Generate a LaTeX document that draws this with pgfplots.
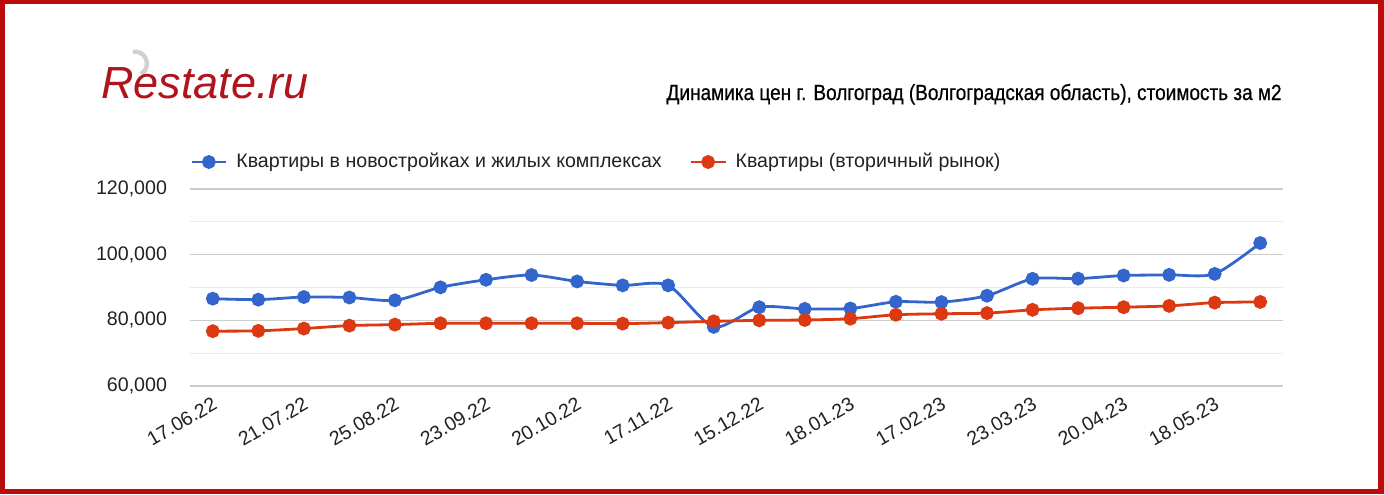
\documentclass[border=0pt]{standalone}
\usepackage{fontspec}
\setmainfont{Liberation Sans}
\newfontfamily\titlefont[FakeBold=0.7]{Liberation Sans}
\usepackage{graphicx}
\usepackage{pgfplots}
\pgfplotsset{compat=1.18}
\definecolor{gblue}{HTML}{3366CC}
\definecolor{gred}{HTML}{DC3912}
\definecolor{frame}{HTML}{BA0C0C}
\definecolor{logored}{HTML}{B0141C}
\definecolor{txt}{HTML}{222222}
\begin{document}
\begin{tikzpicture}[x=0.5pt,y=0.5pt]
\useasboundingbox (0,0) rectangle (1384,494);
\fill[frame] (0,0) rectangle (1384,494);
\fill[white] (5,5) rectangle (1378,489.5);
% logo
\draw[black!18, line width=2.2pt] (141,420) arc[start angle=-60, end angle=100, radius=12];
\node[anchor=base west, inner sep=0pt, text=logored] at (101,396)
  {\fontsize{22.5}{26}\selectfont\itshape Restate.ru};
% title
\node[anchor=base east, inner sep=0pt, text=black] at (1282,394)
  {\resizebox{307.5pt}{\height}{\titlefont\fontsize{11}{13}\selectfont Динамика цен г. Волгоград (Волгоградская область), стоимость за м2}};
\begin{axis}[
  at={(95pt,54pt)}, anchor=south west,
  scale only axis, width=546.5pt, height=98.5pt,
  xmin=-0.5, xmax=23.5, ymin=60000, ymax=120000,
  axis line style={draw=none},
  major tick length=0pt, minor tick length=0pt,
  ytick={60000,80000,100000,120000},
  minor ytick={70000,90000,110000},
  ymajorgrids, yminorgrids,
  major grid style={draw=black!20, line width=0.6pt},
  minor grid style={draw=black!8, line width=0.6pt},
  xtick={0,2,...,22},
  xticklabels={17.06.22,21.07.22,25.08.22,23.09.22,20.10.22,17.11.22,15.12.22,18.01.23,17.02.23,23.03.23,20.04.23,18.05.23},
  scaled y ticks=false,
  /pgf/number format/.cd, 1000 sep={,}, fixed, assume math mode=true,
  /pgfplots/.cd,
  tick label style={font=\fontsize{9.8}{11}\selectfont, text=txt},
  yticklabel style={xshift=-8pt},
  xticklabel style={rotate=30, anchor=north east, inner sep=1pt, yshift=-3pt, xshift=-2pt},
  legend style={draw=none, fill=none, at={(0,1)}, anchor=west, yshift=13.5pt,
    inner xsep=0pt, font=\fontsize{9.8}{11}\selectfont, text=txt,
    /tikz/every odd column/.append style={column sep=2.5pt},
    /tikz/every even column/.append style={column sep=12pt}},
  legend columns=2, legend cell align=left,
  every axis plot/.append style={line width=1.4pt, mark=*, mark size=2.75pt, smooth, tension=0.45},
]
\addplot[gblue, mark options={fill=gblue, draw=gblue}] coordinates {
(0,86600) (1,86300) (2,87100) (3,86950) (4,86100) (5,90050) (6,92350) (7,93800)
(8,91850) (9,90650) (10,90650) (11,78000) (12,84000) (13,83500) (14,83600) (15,85650)
(16,85550) (17,87500) (18,92650) (19,92700) (20,93650) (21,93850) (22,94150) (23,103550)};
\addlegendentry{Квартиры в новостройках и жилых комплексах}
\addplot[gred, mark options={fill=gred, draw=gred}] coordinates {
(0,76700) (1,76800) (2,77500) (3,78400) (4,78700) (5,79100) (6,79100) (7,79100)
(8,79100) (9,79000) (10,79300) (11,79700) (12,80000) (13,80100) (14,80500) (15,81700)
(16,82000) (17,82200) (18,83200) (19,83700) (20,84000) (21,84400) (22,85400) (23,85600)};
\addlegendentry{Квартиры (вторичный рынок)}
\end{axis}
\end{tikzpicture}
\end{document}
